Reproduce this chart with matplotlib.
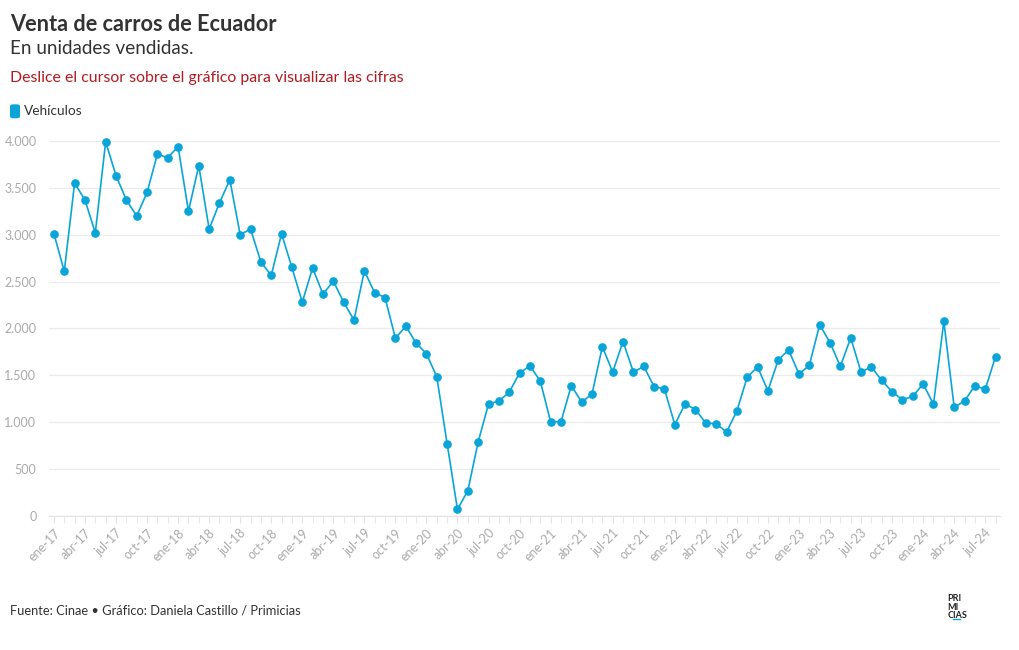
import matplotlib.pyplot as plt
from matplotlib.patches import FancyBboxPatch
from matplotlib.ticker import FuncFormatter, MultipleLocator
import numpy as np

# monthly car sales, ene-17 .. ago-24
months = ['ene', 'feb', 'mar', 'abr', 'may', 'jun',
          'jul', 'ago', 'sep', 'oct', 'nov', 'dic']
years = [17, 18, 19, 20, 21, 22, 23, 24]
labels = [f'{m}-{y}' for y in years for m in months][:92]

ventas = [
    3010, 2610, 3550, 3370, 3020, 3990, 3630, 3370, 3200, 3450, 3860, 3820,  # 2017
    3940, 3250, 3735, 3060, 3340, 3585, 3000, 3060, 2710, 2565, 3010, 2650,  # 2018
    2280, 2645, 2365, 2505, 2280, 2090, 2615, 2380, 2330, 1895, 2025, 1845,  # 2019
    1730, 1485, 770, 70, 270, 790, 1195, 1225, 1320, 1525, 1600, 1440,       # 2020
    1005, 1005, 1390, 1215, 1300, 1805, 1535, 1860, 1535, 1595, 1380, 1355,  # 2021
    975, 1195, 1135, 990, 985, 895, 1120, 1480, 1590, 1335, 1665, 1770,      # 2022
    1515, 1605, 2040, 1850, 1595, 1900, 1535, 1590, 1445, 1325, 1240, 1275,  # 2023
    1410, 1190, 2075, 1160, 1225, 1390, 1350, 1700,                          # 2024
]

azul = '#0aa5d8'
gris = '#aaaaaa'

plt.rcParams['font.family'] = ['Lato', 'DejaVu Sans']

fig = plt.figure(figsize=(10.2, 6.5), dpi=100)
ax = fig.add_axes([0.048, 0.2062, 0.932, 0.577])

x = np.arange(len(ventas))
ax.plot(x, ventas, color=azul, lw=1.2, marker='o', ms=5.2, clip_on=False, zorder=3)

ax.set_ylim(0, 4000)
ax.set_xlim(-0.48, len(ventas) - 1 + 0.39)
ax.yaxis.set_major_locator(MultipleLocator(500))
ax.yaxis.set_major_formatter(FuncFormatter(lambda v, p: f'{int(v):,}'.replace(',', '.')))
ax.grid(axis='y', color='#ebebeb', lw=0.9)
ax.set_axisbelow(True)

ax.set_xticks(x[::3])
ax.set_xticklabels(labels[::3], rotation=45, ha='right', rotation_mode='anchor')
ax.set_xticks(x, minor=True)

for s in ['top', 'right', 'left']:
    ax.spines[s].set_visible(False)
ax.spines['bottom'].set_color('#e3e3e3')
ax.tick_params(axis='y', length=0, labelsize=9, colors=gris, pad=9)
ax.tick_params(axis='x', which='both', length=5, color='#e3e3e3', labelsize=9,
               labelcolor=gris, pad=3)

# header
fig.text(0.0098, 0.963, 'Venta de carros de Ecuador', fontsize=15.7, fontweight='bold',
         color='#333333', va='center')
fig.text(0.0098, 0.926, 'En unidades vendidas.', fontsize=13.6, color='#333333', va='center')
fig.text(0.0098, 0.880, 'Deslice el cursor sobre el gráfico para visualizar las cifras',
         fontsize=11.45, color='#b01c22', va='center')

# legend
fig.patches.append(FancyBboxPatch((0.0098, 0.818), 0.0098, 0.0215,
                                  boxstyle='round,pad=0,rounding_size=0.003',
                                  transform=fig.transFigure, fc=azul, ec='none'))
fig.text(0.0235, 0.829, 'Vehículos', fontsize=9.8, color='#333333', va='center')

# footer
fig.text(0.0098, 0.061, 'Fuente: Cinae • Gráfico: Daniela Castillo / Primicias',
         fontsize=9.3, color='#333333', va='center')
for i, t in enumerate(['PRI', 'MI', 'CIAS']):
    fig.text(0.929, 0.0785 - i * 0.0125, t, fontsize=6.5, fontweight='bold',
             color='#222222', va='center')
fig.add_artist(plt.Line2D([0.934, 0.941], [0.048, 0.048], color=azul, lw=1,
                          transform=fig.transFigure))

fig.savefig('out.png', dpi=100)
